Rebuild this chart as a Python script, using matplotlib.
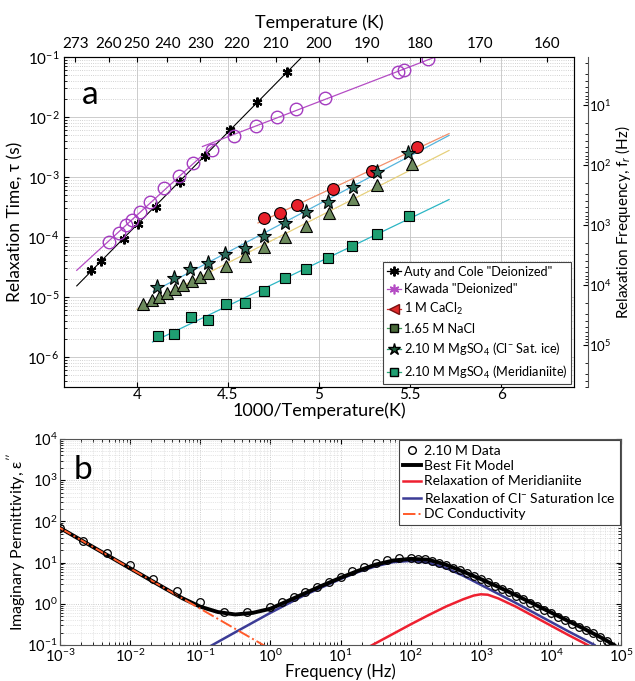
import numpy as np
import matplotlib
matplotlib.use('Agg')
import matplotlib.pyplot as plt
from matplotlib.lines import Line2D
from matplotlib.ticker import LogLocator, NullFormatter, FixedLocator, FixedFormatter

plt.rcParams['font.family'] = ['Lato', 'DejaVu Sans']
plt.rcParams['mathtext.fontset'] = 'custom'
plt.rcParams['mathtext.rm'] = 'Lato'
plt.rcParams['mathtext.it'] = 'Lato:italic'
plt.rcParams['mathtext.bf'] = 'Lato:bold'

# ---- panel a : relaxation time vs 1000/T (log10 tau)
auty_x = [3.746, 3.802, 3.929, 4.005, 4.106, 4.236, 4.375, 4.509, 4.661, 4.823]
auty_lt = [-4.55, -4.395, -4.033, -3.788, -3.495, -3.078, -2.645, -2.217, -1.755, -1.245]

kawada_x = [3.848, 3.903, 3.938, 3.971, 4.016, 4.071, 4.148, 4.231, 4.306, 4.410,
            4.533, 4.652, 4.771, 4.874, 5.033, 5.432, 5.469, 5.597]
kawada_lt = [-4.088, -3.938, -3.80, -3.717, -3.578, -3.422, -3.188, -2.983, -2.772, -2.55,
             -2.317, -2.15, -2.005, -1.872, -1.688, -1.255, -1.217, -1.038]

cacl2_x = [4.698, 4.786, 4.881, 5.075, 5.290, 5.537]
cacl2_lt = [-3.688, -3.605, -3.467, -3.205, -2.895, -2.505]

clsat_x = [4.112, 4.205, 4.291, 4.388, 4.484, 4.593, 4.698, 4.813, 4.929, 5.051, 5.185, 5.317, 5.491]
clsat_lt = [-4.838, -4.688, -4.533, -4.428, -4.288, -4.188, -3.978, -3.772, -3.578, -3.412,
            -3.162, -2.912, -2.595]

nacl_x = [4.035, 4.084, 4.123, 4.163, 4.209, 4.254, 4.301, 4.346, 4.392, 4.489, 4.593,
          4.698, 4.815, 4.929, 5.057, 5.185, 5.320, 5.513]
nacl_lt = [-5.117, -5.05, -4.995, -4.928, -4.872, -4.80, -4.733, -4.662, -4.595, -4.483,
           -4.317, -4.172, -3.995, -3.817, -3.605, -3.372, -3.133, -2.783]

merid_x = [4.117, 4.205, 4.295, 4.388, 4.487, 4.593, 4.698, 4.813, 4.929, 5.051, 5.181, 5.320, 5.495]
merid_lt = [-5.65, -5.622, -5.328, -5.383, -5.117, -5.105, -4.895, -4.688, -4.533, -4.355,
            -4.145, -3.95, -3.65]

temps_top = [273, 260, 250, 240, 230, 220, 210, 200, 190, 180, 170, 160]

# ---- panel b : imaginary permittivity spectrum (log10 values)
data_lf = [-3, -2.667, -2.333, -2, -1.667, -1.333, -1, -0.667, -0.333,
           0, 0.167, 0.333, 0.5, 0.667, 0.833, 1.0, 1.167, 1.333, 1.5, 1.667, 1.833, 2.0,
           2.1, 2.2, 2.3, 2.4, 2.5, 2.6, 2.7, 2.8, 2.9, 3.0, 3.1, 3.2, 3.3, 3.4, 3.5,
           3.6, 3.7, 3.8, 3.9, 4.0, 4.1, 4.2, 4.3, 4.4, 4.5, 4.6, 4.7, 4.8]
data_ly = [1.85, 1.52, 1.23, 0.93, 0.60, 0.31, 0.04, -0.19, -0.21,
           -0.08, 0.05, 0.17, 0.29, 0.40, 0.53, 0.66, 0.79, 0.90, 0.99, 1.06, 1.10, 1.10,
           1.09, 1.08, 1.05, 1.00, 0.94, 0.88, 0.81, 0.74, 0.67, 0.60, 0.52, 0.44, 0.36, 0.28, 0.20,
           0.11, 0.03, -0.06, -0.15, -0.23, -0.31, -0.39, -0.48, -0.56, -0.64, -0.72, -0.81, -0.90]

fit_lf = [-3, -2.5, -2, -1.5, -1.25, -1, -0.75, -0.5, -0.25, 0, 0.25, 0.5, 0.75, 1.0, 1.25,
          1.5, 1.75, 2.0, 2.25, 2.5, 2.75, 3.0, 3.25, 3.5, 3.75, 4.0, 4.25, 4.5, 4.75, 4.9]
fit_ly = [1.84, 1.35, 0.86, 0.37, 0.13, -0.07, -0.20, -0.26, -0.22, -0.12, 0.07, 0.26, 0.45, 0.63, 0.80,
          0.95, 1.05, 1.09, 1.07, 0.95, 0.78, 0.60, 0.41, 0.21, 0.0, -0.21, -0.42, -0.63, -0.85, -1.0]

ice_lf = [-0.9, -0.5, 0, 0.5, 1.0, 1.25, 1.5, 1.75, 2.0, 2.25, 2.5, 2.75, 3.0, 3.25, 3.5, 3.75,
          4.0, 4.25, 4.5, 4.62]
ice_ly = [-1.07, -0.69, -0.22, 0.22, 0.60, 0.77, 0.91, 1.01, 1.04, 1.00, 0.87, 0.68, 0.46, 0.24,
          0.02, -0.21, -0.44, -0.67, -0.89, -1.0]

mer_lf = [1.4, 1.75, 2.0, 2.25, 2.5, 2.75, 2.9, 3.0, 3.1, 3.25, 3.5, 3.75, 4.0, 4.25, 4.5, 4.6]
mer_ly = [-1.05, -0.73, -0.50, -0.28, -0.07, 0.11, 0.20, 0.23, 0.22, 0.13, -0.07, -0.30, -0.53,
          -0.76, -0.98, -1.07]

dc_lf = [-3.0, -2.0, -1.0, 0.0]
dc_ly = [1.84, 0.86, -0.12, -1.10]


def p10(v):
    return 10.0 ** np.asarray(v, dtype=float)


def fit_line(x, lt, x0, x1):
    p = np.polyfit(x, lt, 1)
    xx = np.array([x0, x1])
    return xx, 10.0 ** np.polyval(p, xx)


fig = plt.figure(figsize=(6.35, 6.81), dpi=100)
ax = fig.add_axes([0.1008, 0.4317, 0.8031, 0.4846])

ax.set_yscale('log')
ax.set_xlim(3.6, 6.4)
ax.set_ylim(10 ** -6.5, 1e-1)

# fitted Arrhenius lines
xx, yy = fit_line(auty_x, auty_lt, 3.67, 4.95)
ax.plot(xx, yy, color='k', lw=0.8)
xx, yy = fit_line(kawada_x[:10], kawada_lt[:10], 3.67, 4.43)
ax.plot(xx, yy, color='#b44cc4', lw=0.9)
xx, yy = fit_line(kawada_x[10:], kawada_lt[10:], 4.36, 5.63)
ax.plot(xx, yy, color='#b44cc4', lw=0.9)
xx, yy = fit_line(cacl2_x, cacl2_lt, 4.665, 5.714)
ax.plot(xx, yy, color='#f2906c', lw=0.9)
xx, yy = fit_line(clsat_x, clsat_lt, 4.09, 5.714)
ax.plot(xx, yy, color='#55b4dc', lw=0.9)
xx, yy = fit_line(nacl_x, nacl_lt, 4.0, 5.714)
ax.plot(xx, yy, color='#e6d07c', lw=0.9)
xx, yy = fit_line(merid_x, merid_lt, 4.086, 5.714)
ax.plot(xx, yy, color='#2bb6c4', lw=0.9)

ax.plot(auty_x, p10(auty_lt), ls='none', marker=(6, 2, 0), ms=7, mec='k', mew=1.6)
ax.plot(kawada_x, p10(kawada_lt), ls='none', marker='o', ms=9, mfc='none',
        mec='#a43cc0', mew=1.0)
ax.plot(cacl2_x, p10(cacl2_lt), ls='none', marker='o', ms=8.5, mfc='#e8202a',
        mec='k', mew=0.8)
ax.plot(nacl_x, p10(nacl_lt), ls='none', marker='^', ms=9, mfc='#6c8a5c',
        mec='k', mew=0.8)
ax.plot(clsat_x, p10(clsat_lt), ls='none', marker='*', ms=11, mfc='#2a6a58',
        mec='k', mew=0.8)
ax.plot(merid_x, p10(merid_lt), ls='none', marker='s', ms=6.5, mfc='#1f9f72',
        mec='k', mew=0.8)

ax.xaxis.set_major_locator(FixedLocator([4, 4.5, 5, 5.5, 6]))
ax.xaxis.set_major_formatter(FixedFormatter(['4', '4.5', '5', '5.5', '6']))
ax.yaxis.set_major_locator(LogLocator(base=10, numticks=12))
ax.yaxis.set_minor_locator(LogLocator(base=10, subs=np.arange(2, 10), numticks=12))
ax.yaxis.set_minor_formatter(NullFormatter())
ax.tick_params(which='both', direction='in', labelsize=11)
ax.tick_params(axis='x', pad=1)
ax.grid(True, which='major', color='#c4c4c4', lw=0.6)
ax.grid(True, which='minor', axis='y', color='#c4c4c4', lw=0.6, ls=':')
ax.set_xlabel('1000/Temperature(K)', fontsize=13, labelpad=0)
ax.set_ylabel('Relaxation Time, τ (s)', fontsize=12.5, labelpad=3)
for s in ax.spines.values():
    s.set_color('#555555')
    s.set_linewidth(0.8)
ax.text(0.035, 0.93, 'a', transform=ax.transAxes, fontsize=24, va='top', ha='left')

# top temperature axis
axt = ax.twiny()
axt.set_xlim(ax.get_xlim())
axt.set_xticks(1000.0 / np.array(temps_top))
axt.set_xticklabels([str(t) for t in temps_top])
axt.tick_params(direction='in', labelsize=11, pad=4)
axt.set_xlabel('Temperature (K)', fontsize=13, labelpad=7)

# right relaxation frequency axis, f = 1/(2 pi tau)
axf = ax.twinx()
axf.set_yscale('log')
lo, hi = ax.get_ylim()
axf.set_ylim(1 / (2 * np.pi * lo), 1 / (2 * np.pi * hi))
axf.spines['right'].set_position(('outward', 10))
for k in ['left', 'top', 'bottom']:
    axf.spines[k].set_visible(False)
axf.spines['right'].set_color('#555555')
axf.yaxis.set_major_locator(LogLocator(base=10, numticks=12))
axf.yaxis.set_minor_locator(LogLocator(base=10, subs=np.arange(2, 10), numticks=12))
axf.yaxis.set_minor_formatter(NullFormatter())
axf.tick_params(which='both', direction='in', labelsize=9.5, pad=1)
axf.set_ylabel('Relaxation Frequency, f$_r$ (Hz)', fontsize=11, labelpad=1)

handles_a = [
    Line2D([], [], color='k', marker=(6, 2, 0), ms=7, mew=1.4, lw=0.9),
    Line2D([], [], color='#b44cc4', marker=(6, 2, 0), ms=7, mew=1.2, lw=0.9),
    Line2D([], [], color='#d03030', marker='<', ms=7, mfc='#e02a2a', mec='#7a1010', lw=0.9),
    Line2D([], [], color='#3f9a55', marker='s', ms=6, mfc='#4a6a3a', mec='k', lw=0.9),
    Line2D([], [], color='#2a9a70', marker='*', ms=9, mfc='#1f5a3a', mec='k', lw=0.9),
    Line2D([], [], color='#2aa878', marker='s', ms=6, mfc='#1f9f72', mec='k', lw=0.9),
]
labels_a = ['Auty and Cole "Deionized"', 'Kawada "Deionized"', '1 M CaCl$_2$', '1.65 M NaCl',
            '2.10 M MgSO$_4$ (Cl$^{-}$ Sat. ice)', '2.10 M MgSO$_4$ (Meridianiite)']
leg = ax.legend(handles_a, labels_a, loc='lower right', fontsize=9.2, handlelength=1.1,
                handletextpad=0.2, borderpad=0.3, labelspacing=0.45, borderaxespad=0.2,
                fancybox=False, framealpha=1)
leg.get_frame().set_edgecolor('#444444')
leg.get_frame().set_linewidth(0.8)

# ---- panel b
bx = fig.add_axes([0.0945, 0.0529, 0.8835, 0.3025])
bx.set_xscale('log')
bx.set_yscale('log')
bx.set_xlim(1e-3, 1e5)
bx.set_ylim(1e-1, 1e4)

bx.plot(p10(fit_lf), p10(fit_ly), color='k', lw=2.8, zorder=3)
bx.plot(p10(ice_lf), p10(ice_ly), color='#3c3c96', lw=1.8, zorder=2)
bx.plot(p10(mer_lf), p10(mer_ly), color='#ee2030', lw=1.8, zorder=2)
bx.plot(p10(dc_lf), p10(dc_ly), color='#ff5a2a', lw=1.4, ls='-.', zorder=4)
bx.plot(p10(data_lf), p10(data_ly), ls='none', marker='o', ms=5.5,
        mfc='none', mec='k', mew=0.9, zorder=5)

bx.xaxis.set_major_locator(LogLocator(base=10, numticks=20))
bx.xaxis.set_minor_locator(LogLocator(base=10, subs=np.arange(2, 10), numticks=20))
bx.yaxis.set_major_locator(LogLocator(base=10, numticks=12))
bx.yaxis.set_minor_locator(LogLocator(base=10, subs=np.arange(2, 10), numticks=12))
bx.xaxis.set_minor_formatter(NullFormatter())
bx.yaxis.set_minor_formatter(NullFormatter())
bx.tick_params(which='both', direction='in', labelsize=10.5, top=True, right=True)
bx.tick_params(axis='x', pad=2)
bx.tick_params(axis='y', pad=2)
bx.grid(True, which='major', color='#bcbcbc', lw=0.6, ls=':')
bx.grid(True, which='minor', color='#cfcfcf', lw=0.5, ls=':')
for s in bx.spines.values():
    s.set_color('#555555')
    s.set_linewidth(0.8)
bx.set_xlabel('Frequency (Hz)', fontsize=12, labelpad=-1)
bx.set_ylabel("Imaginary Permittivity, ε$^{\\prime\\prime}$", fontsize=11.5, labelpad=-1)
bx.text(0.025, 0.92, 'b', transform=bx.transAxes, fontsize=24, va='top', ha='left')

handles_b = [
    Line2D([], [], ls='none', marker='o', ms=5.5, mfc='none', mec='k'),
    Line2D([], [], color='k', lw=2.8),
    Line2D([], [], color='#ee2030', lw=1.8),
    Line2D([], [], color='#3c3c96', lw=1.8),
    Line2D([], [], color='#ff5a2a', lw=1.4, ls='-.'),
]
labels_b = ['2.10 M Data', 'Best Fit Model', 'Relaxation of Meridianiite',
            'Relaxation of Cl$^{-}$ Saturation Ice', 'DC Conductivity']
legb = bx.legend(handles_b, labels_b, loc='upper right', fontsize=10, handlelength=1.3,
                 handletextpad=0.2, borderpad=0.3, labelspacing=0.25, borderaxespad=0.1,
                 fancybox=False, framealpha=1)
legb.get_frame().set_edgecolor('#444444')
legb.get_frame().set_linewidth(0.8)

plt.savefig('out.png', dpi=100)
